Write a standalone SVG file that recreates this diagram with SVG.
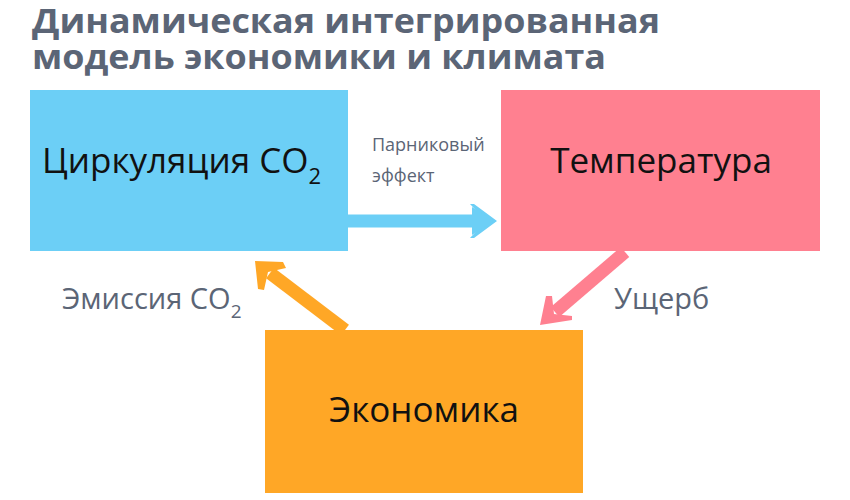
<svg xmlns="http://www.w3.org/2000/svg" width="850" height="500" viewBox="0 0 850 500">
<style>
text{font-family:"Open Sans","Noto Sans",sans-serif}
.t{font-size:34px;font-weight:bold;fill:#5b6576}
.n{font-size:35px;font-weight:500;fill:#111}
.l{fill:#5b6576}
</style>
<rect width="850" height="500" fill="#fff"/>
<text class="t" x="32" y="33" textLength="628" lengthAdjust="spacingAndGlyphs">Динамическая интегрированная</text>
<text class="t" x="32" y="69" textLength="574" lengthAdjust="spacingAndGlyphs">модель экономики и климата</text>
<g id="connectors">
<g id="greenhouse">
<line x1="348" y1="221" x2="480" y2="221" stroke="#6ccff6" stroke-width="13"/>
<polygon points="474,204 497,221 474,238 470,238 486,221 470,204" fill="#6ccff6"/>
<polygon points="472,207 494,221 472,235" fill="#6ccff6"/>
</g>
<g id="damage">
<line x1="625" y1="252" x2="555" y2="312" stroke="#ff8090" stroke-width="13"/>
<polygon points="540,325 546,296 552,296 554,314 572,316 572,320" fill="#ff8090"/>
</g>
<g id="emission">
<line x1="345" y1="330" x2="270" y2="273" stroke="#ffa726" stroke-width="13"/>
<polygon points="255,261 283,262 286,268 268,272 264,290 258,289" fill="#ffa726"/>
</g>
</g>
<text class="l" x="372" y="151" font-size="18">Парниковый</text>
<text class="l" x="372" y="182" font-size="18">эффект</text>
<text class="l" x="62" y="309" font-size="29">Эмиссия CO<tspan font-size="19" dy="9">2</tspan></text>
<text class="l" x="614" y="309" font-size="29">Ущерб</text>
<g id="co2"><rect x="30" y="90" width="318" height="161" fill="#6ccff6"/>
<text class="n" x="42" y="173">Циркуляция CO<tspan font-size="22" dy="11">2</tspan></text></g>
<g id="temp"><rect x="501" y="90" width="319" height="161" fill="#ff8090"/>
<text class="n" x="661" y="173" text-anchor="middle">Температура</text></g>
<g id="econ"><rect x="265" y="330" width="318" height="163" fill="#ffa726"/>
<text class="n" x="424" y="422" text-anchor="middle">Экономика</text></g>
</svg>
